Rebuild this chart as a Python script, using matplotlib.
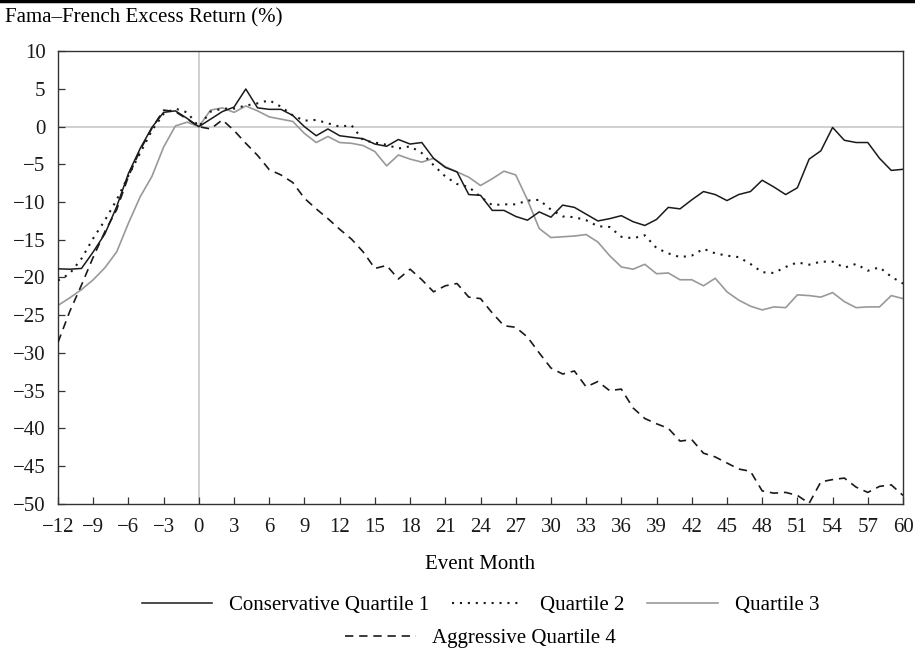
import numpy as np
import matplotlib
matplotlib.use("Agg")
import matplotlib.pyplot as plt
from matplotlib.lines import Line2D

plt.rcParams["font.family"] = ["Liberation Serif", "DejaVu Serif"]

# event months -12 .. 60
months = list(range(-12, 61))

conservative_q1 = [
    -18.85, -18.9, -18.8, -16.6, -14.2, -10.6, -6.2, -2.9, -0.1, 1.9, 2.1, 1.1, 0.0,
    1.0, 2.0, 2.6, 5.0, 2.5, 2.3, 2.3, 1.5, 0.0, -1.2, -0.3, -1.2, -1.4, -1.6,
    -2.3, -2.6, -1.7, -2.3, -2.1, -4.2, -5.4, -6.0, -9.0, -9.1, -11.1, -11.1,
    -11.9, -12.4, -11.3, -12.0, -10.4, -10.7, -11.6, -12.5, -12.2, -11.8, -12.6,
    -13.1, -12.3, -10.7, -10.9, -9.7, -8.6, -9.0, -9.8, -9.0, -8.6, -7.1, -8.0,
    -9.0, -8.1, -4.3, -3.2, -0.1, -1.8, -2.1, -2.1, -4.2, -5.8, -5.65,
]
quartile_2 = [
    -20.4, -19.5, -17.5, -14.8, -12.4, -9.7, -6.5, -3.5, -0.5, 1.7, 2.4, 1.9, 0.0,
    2.0, 2.4, 2.4, 2.8, 3.1, 3.5, 2.65, 1.5, 0.8, 0.9, 0.45, 0.0, 0.2, -1.8,
    -2.1, -2.4, -2.9, -2.6, -3.5, -5.1, -6.6, -7.6, -8.0, -9.3, -10.4, -10.3,
    -10.3, -9.8, -9.7, -11.0, -11.9, -12.0, -12.4, -13.2, -13.3, -14.6, -14.8,
    -14.4, -16.1, -16.8, -17.3, -17.1, -16.2, -16.8, -17.1, -17.3, -18.2, -19.3,
    -19.4, -18.6, -18.0, -18.3, -17.9, -17.9, -18.7, -18.2, -19.1, -18.65, -19.9,
    -20.8,
]
quartile_3 = [
    -23.7, -22.7, -21.6, -20.3, -18.7, -16.6, -12.8, -9.3, -6.6, -2.7, 0.1, 0.6, 0.0,
    2.2, 2.5, 1.9, 2.75, 2.1, 1.3, 1.0, 0.7, -0.9, -2.1, -1.3, -2.1, -2.2, -2.5,
    -3.3, -5.2, -3.75, -4.3, -4.7, -4.2, -5.3, -6.0, -6.7, -7.8, -6.9, -5.9,
    -6.4, -9.7, -13.5, -14.7, -14.6, -14.5, -14.3, -15.3, -17.1, -18.6, -18.9,
    -18.25, -19.5, -19.4, -20.3, -20.3, -21.1, -20.1, -21.9, -23.0, -23.8, -24.3,
    -23.9, -24.0, -22.3, -22.4, -22.6, -22.0, -23.2, -24.0, -23.9, -23.9, -22.4,
    -22.8,
]
aggressive_q4 = [
    -28.6, -24.5, -21.0, -17.3, -13.9, -11.0, -6.6, -3.1, -0.2, 2.2, 2.0, 1.0, 0.0,
    -0.3, 0.9, -0.5, -2.2, -3.8, -5.7, -6.4, -7.4, -9.5, -10.9, -12.2, -13.6,
    -14.9, -16.6, -18.8, -18.4, -20.2, -18.9, -20.3, -21.9, -21.1, -20.8, -22.6,
    -22.8, -24.7, -26.4, -26.6, -27.9, -30.0, -32.0, -32.8, -32.4, -34.5, -33.8,
    -35.0, -34.8, -37.3, -38.7, -39.4, -40.0, -41.7, -41.5, -43.3, -43.8, -44.6,
    -45.4, -45.7, -48.3, -48.6, -48.5, -48.9, -49.95, -47.1, -46.8, -46.6, -47.8,
    -48.5, -47.7, -47.5, -48.9,
]

x_ticks = list(range(-12, 61, 3))
y_ticks = list(range(-50, 11, 5))

FS = 15

fig = plt.figure(figsize=(9.15, 6.6), dpi=100)
ax = fig.add_axes([0.0634, 0.2368, 0.9235, 0.6855])

ax.axhline(0, color="#c8c8c8", lw=1.2, zorder=1)
ax.axvline(0, color="#c8c8c8", lw=1.2, zorder=1)

ax.plot(months, quartile_3, color="#999999", lw=1.2, label="Quartile 3", zorder=2)
ax.plot(months, aggressive_q4, color="#1a1a1a", lw=1.2, linestyle=(0, (5, 3.5)),
        label="Aggressive Quartile 4", zorder=3)
ax.plot(months, quartile_2, color="#1a1a1a", lw=1.5, linestyle=(0, (1, 2.8)),
        label="Quartile 2", zorder=3)
ax.plot(months, conservative_q1, color="#1a1a1a", lw=1.1,
        label="Conservative Quartile 1", zorder=4)

ax.set_xlim(-12, 60)
ax.set_ylim(-50, 10)
ax.set_xticks(x_ticks)
ax.set_yticks(y_ticks)
ax.tick_params(direction="in", length=5, width=0.9, color="#333333",
               labelsize=FS, colors="#1a1a1a")
ax.tick_params(axis="x", pad=10)
ax.tick_params(axis="y", pad=9)
for s in ax.spines.values():
    s.set_color("#333333")
    s.set_linewidth(1.0)

ax.set_xlabel("Event Month", fontsize=FS, labelpad=13)
fig.text(0.005, 0.973, "Fama\u2013French Excess Return (%)", fontsize=FS,
         ha="left", va="center")

# heavy rule across the top edge
fig.add_artist(Line2D([0, 1], [0.9985, 0.9985], color="black", lw=2.5,
                      transform=fig.transFigure))

h = {l.get_label(): l for l in ax.get_lines() if not l.get_label().startswith("_")}
common = dict(frameon=False, fontsize=FS, handlelength=3.4, handletextpad=0.8,
              columnspacing=1.1)
fig.legend([h["Conservative Quartile 1"], h["Quartile 2"], h["Quartile 3"]],
           ["Conservative Quartile 1", "Quartile 2", "Quartile 3"],
           loc="center", bbox_to_anchor=(0.525, 0.083), ncol=3, **common)
fig.legend([h["Aggressive Quartile 4"]], ["Aggressive Quartile 4"],
           loc="center", bbox_to_anchor=(0.525, 0.033), **common)

fig.savefig("out.png", dpi=100)
